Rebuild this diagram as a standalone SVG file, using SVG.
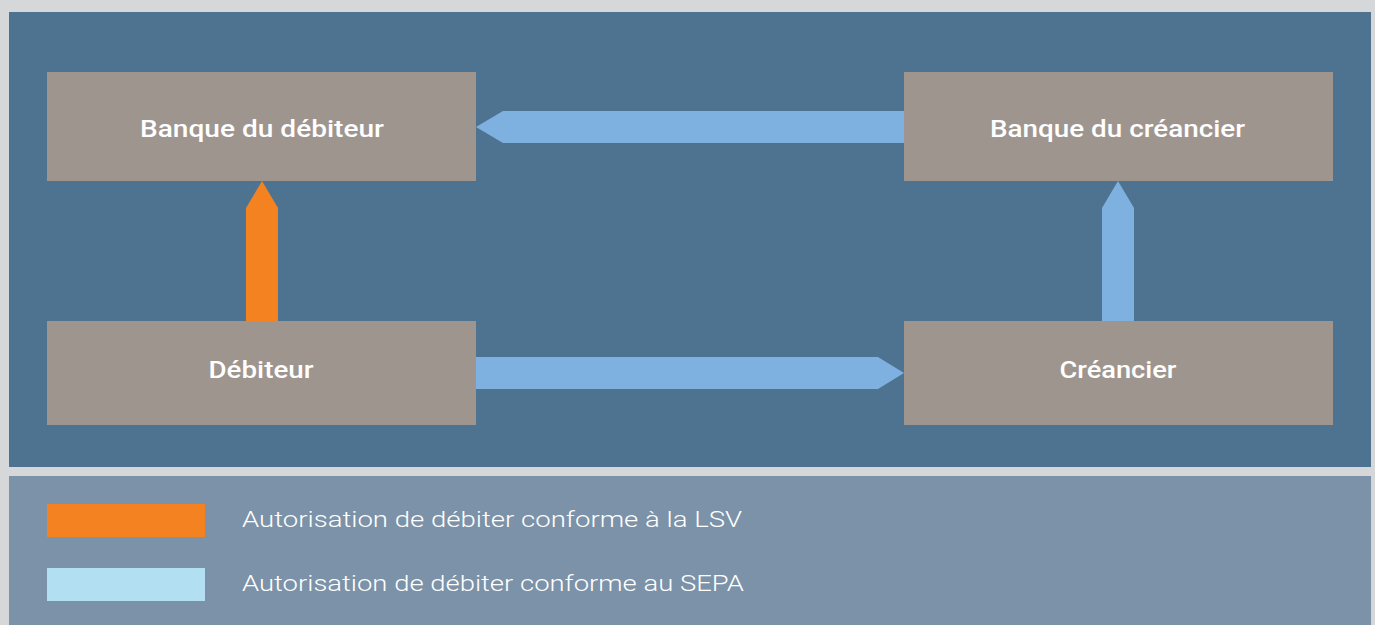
<svg xmlns="http://www.w3.org/2000/svg" width="1375" height="625" viewBox="0 0 1375 625">
  <style>
    .node rect { fill: #9e958f; }
    .node text { fill: #ffffff; font-family: Roboto, "Liberation Sans", sans-serif; font-weight: 500; font-size: 23px; text-anchor: middle; }
    .blue { fill: #7fb1e0; }
    .orange { fill: #f58220; }
    .legend text { fill: #ffffff; font-family: Roboto, "Liberation Sans", sans-serif; font-weight: 300; font-size: 22px; }
  </style>
  <rect x="0" y="0" width="1375" height="625" fill="#d6d7d9"/>
  <rect x="9" y="12" width="1362" height="455" fill="#4e7390"/>
  <rect x="9" y="476" width="1362" height="149" fill="#7b92a8"/>

  <g id="connectors">
    <polygon class="blue" points="904,111 503,111 476,127 503,143 904,143"/>
    <polygon class="blue" points="476,357 878,357 904,373 878,389 476,389"/>
    <polygon class="orange" points="246,321 246,208 262,181 278,208 278,321"/>
    <polygon class="blue" points="1102,321 1102,208 1118,181 1134,208 1134,321"/>
  </g>

  <g id="node-banque-debiteur" class="node">
    <rect x="47" y="72" width="429" height="109"/>
    <text x="262" y="137" textLength="244" lengthAdjust="spacingAndGlyphs">Banque du débiteur</text>
  </g>
  <g id="node-banque-creancier" class="node">
    <rect x="904" y="72" width="429" height="109"/>
    <text x="1117.5" y="137" textLength="255" lengthAdjust="spacingAndGlyphs">Banque du créancier</text>
  </g>
  <g id="node-debiteur" class="node">
    <rect x="47" y="321" width="429" height="104"/>
    <text x="261" y="378" textLength="105" lengthAdjust="spacingAndGlyphs">Débiteur</text>
  </g>
  <g id="node-creancier" class="node">
    <rect x="904" y="321" width="429" height="104"/>
    <text x="1118" y="378" textLength="117" lengthAdjust="spacingAndGlyphs">Créancier</text>
  </g>

  <g id="legend" class="legend">
    <rect x="47" y="504" width="158" height="33" fill="#f58220"/>
    <text x="242" y="527" textLength="500" lengthAdjust="spacingAndGlyphs">Autorisation de débiter conforme à la LSV</text>
    <rect x="47" y="568" width="158" height="33" fill="#b3dff2"/>
    <text x="242" y="591" textLength="502" lengthAdjust="spacingAndGlyphs">Autorisation de débiter conforme au SEPA</text>
  </g>
</svg>
